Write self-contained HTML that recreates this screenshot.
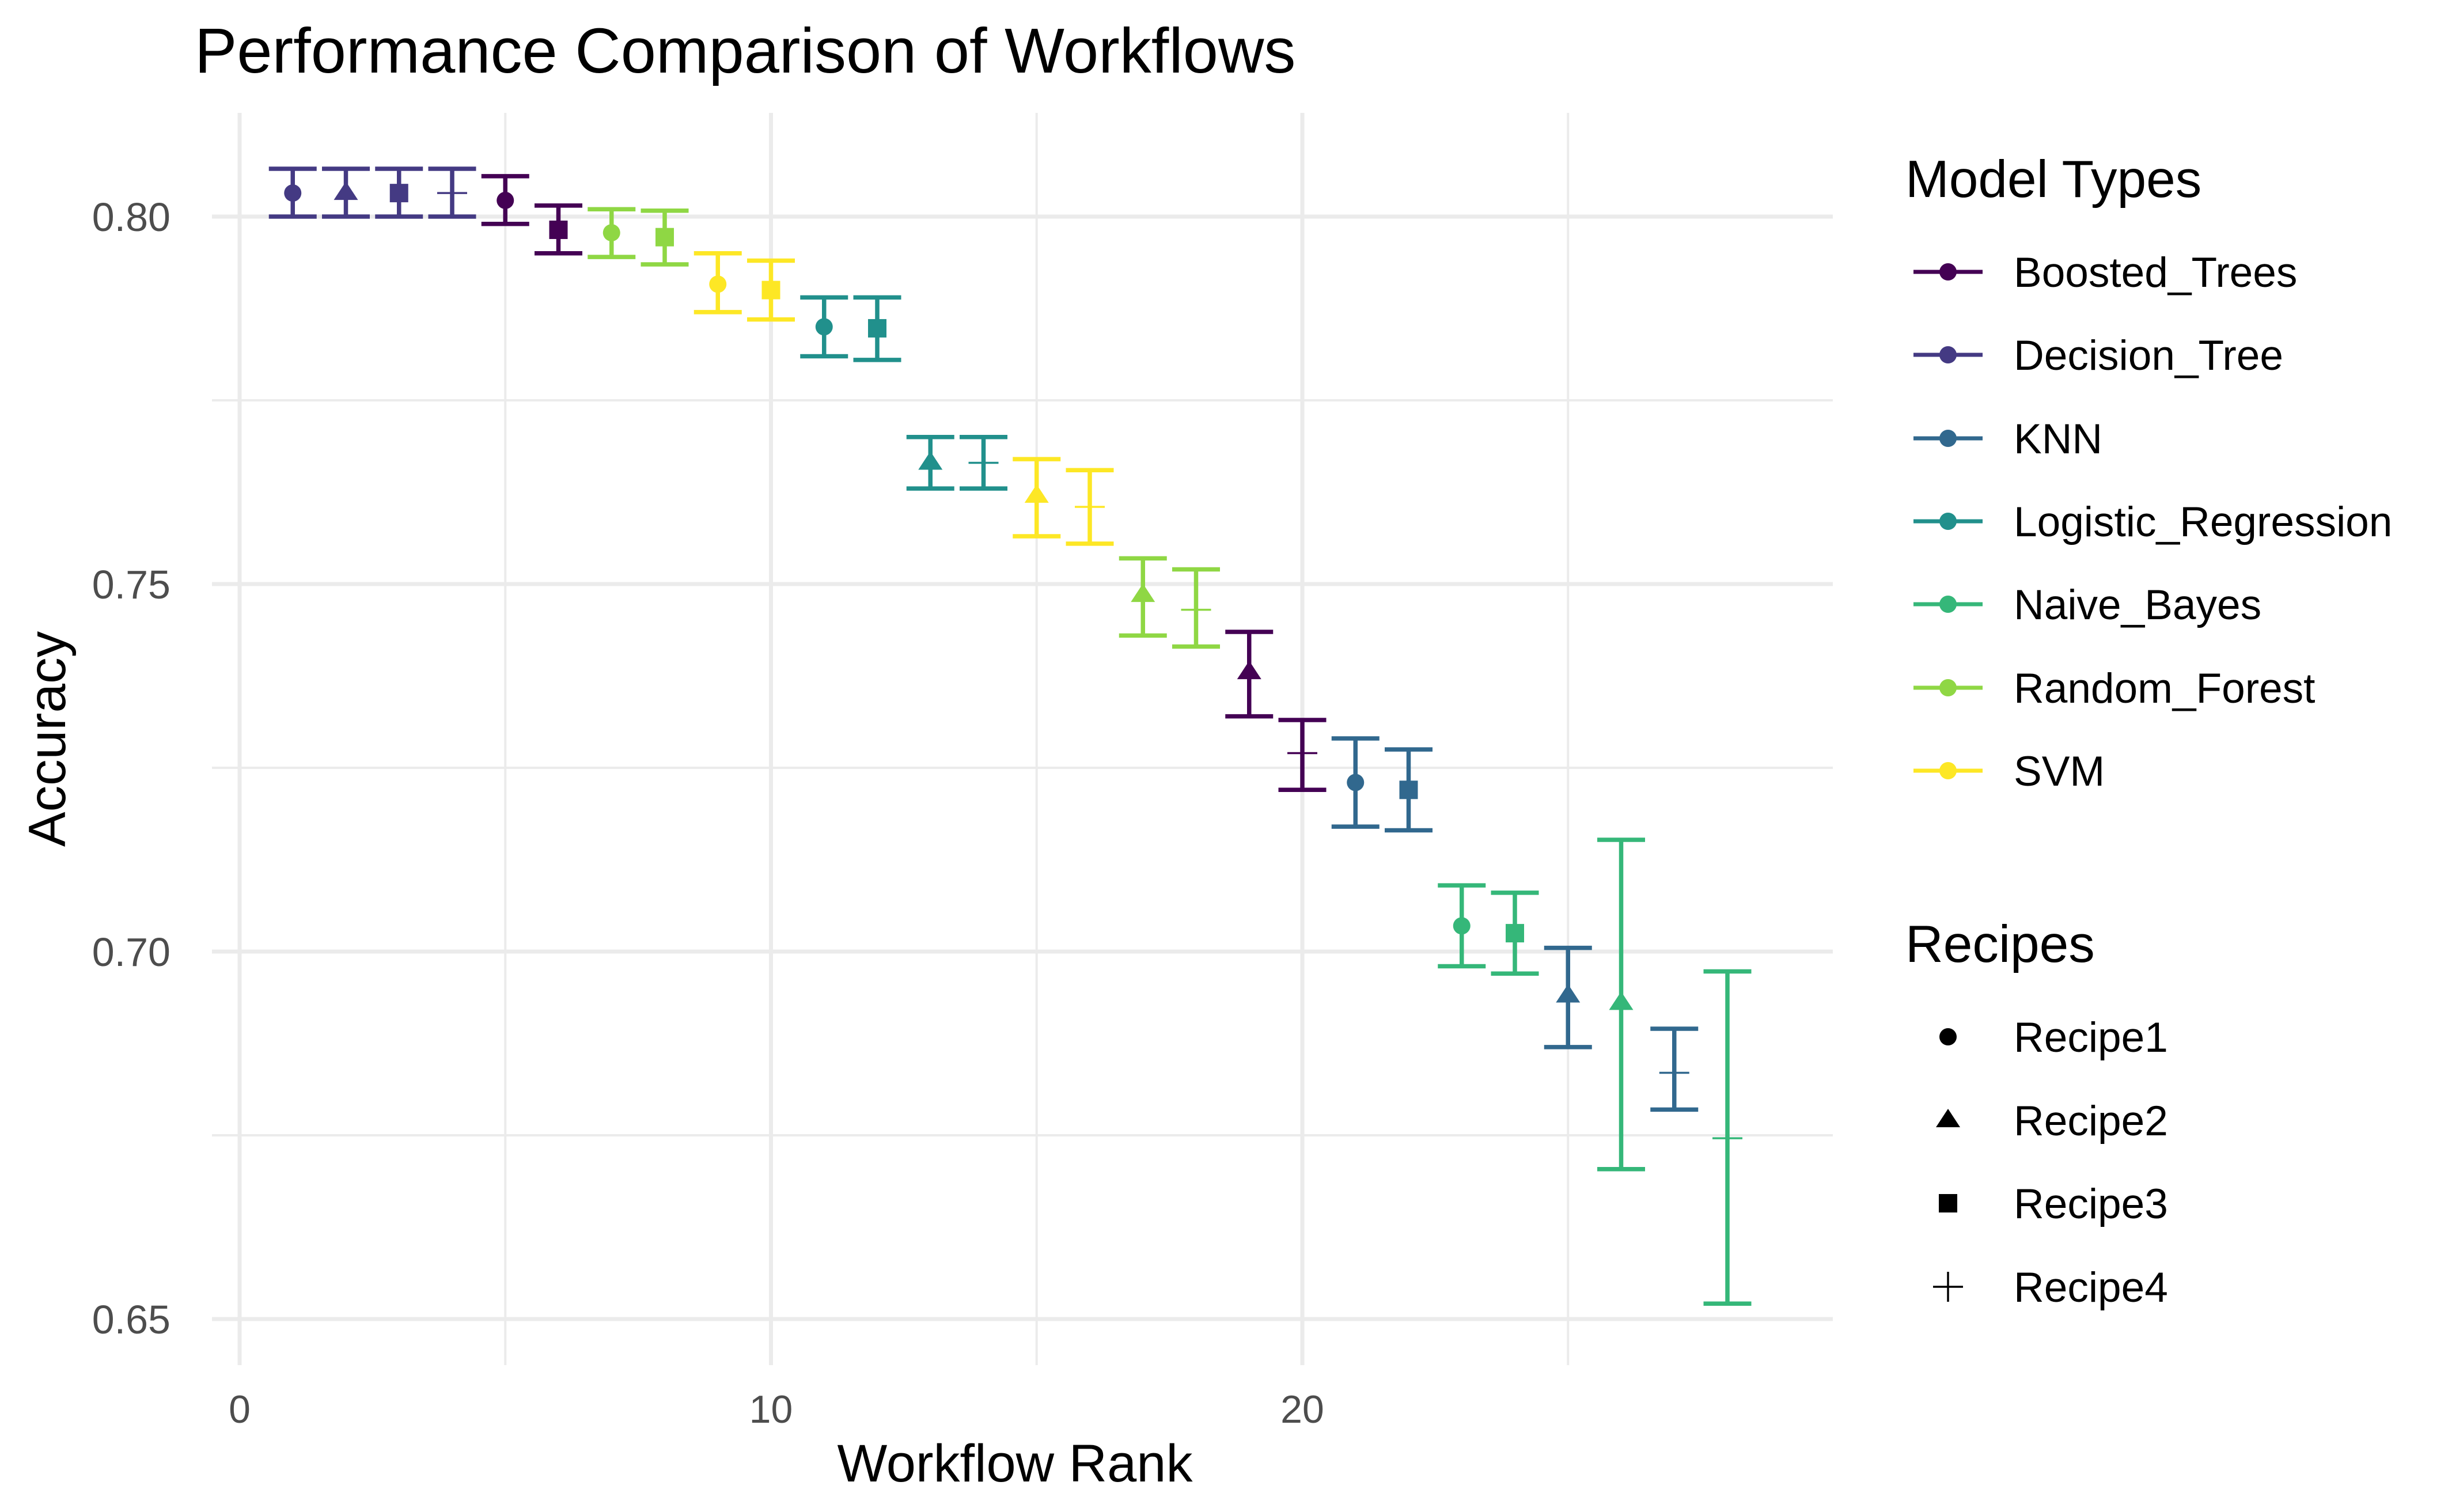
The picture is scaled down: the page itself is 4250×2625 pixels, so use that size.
<!DOCTYPE html>
<html><head><meta charset="utf-8"><style>
html,body{margin:0;padding:0;background:#fff;}
svg{display:block;font-family:"Liberation Sans",Arial,sans-serif;}
</style></head><body>
<svg id="chart" width="4250" height="2625" viewBox="0 0 4250 2625" xmlns="http://www.w3.org/2000/svg">
<rect width="4250" height="2625" fill="#fff"/>
<g id="grid"></g>
<g id="marks"></g>
<g id="axes"></g>
<text x="338" y="126" font-size="110" fill="#000">Performance Comparison of Workflows</text>
<text x="1762" y="2572" font-size="92" text-anchor="middle" fill="#000">Workflow Rank</text>
<text transform="translate(113,1283) rotate(-90)" font-size="91" text-anchor="middle" fill="#000">Accuracy</text>
<g id="legend"></g>
</svg>
<script>
const ranks=[1,2,3,4,5,6,7,8,9,10,11,12,13,14,15,16,17,18,19,20,21,22,23,24,25,26,27,28];
const models=["Decision_Tree","Decision_Tree","Decision_Tree","Decision_Tree","Boosted_Trees","Boosted_Trees","Random_Forest","Random_Forest","SVM","SVM","Logistic_Regression","Logistic_Regression","Logistic_Regression","Logistic_Regression","SVM","SVM","Random_Forest","Random_Forest","Boosted_Trees","Boosted_Trees","KNN","KNN","Naive_Bayes","Naive_Bayes","KNN","Naive_Bayes","KNN","Naive_Bayes"];
const recipes=["Recipe1","Recipe2","Recipe3","Recipe4","Recipe1","Recipe3","Recipe1","Recipe3","Recipe1","Recipe3","Recipe1","Recipe3","Recipe2","Recipe4","Recipe2","Recipe4","Recipe2","Recipe4","Recipe2","Recipe4","Recipe1","Recipe3","Recipe1","Recipe3","Recipe2","Recipe2","Recipe4","Recipe4"];
const means=[0.8032,0.8032,0.8032,0.8032,0.8022,0.7982,0.7978,0.7972,0.7908,0.7900,0.7850,0.7848,0.7665,0.7665,0.7620,0.7605,0.7485,0.7465,0.7380,0.7270,0.7230,0.7220,0.7035,0.7025,0.6940,0.6930,0.6835,0.6746];
const lowers=[0.8000,0.8000,0.8000,0.8000,0.7990,0.7950,0.7945,0.7935,0.7870,0.7860,0.7810,0.7805,0.7630,0.7630,0.7565,0.7555,0.7430,0.7415,0.7320,0.7220,0.7170,0.7165,0.6980,0.6970,0.6870,0.6704,0.6785,0.6521];
const uppers=[0.8065,0.8065,0.8065,0.8065,0.8055,0.8015,0.8010,0.8008,0.7950,0.7940,0.7890,0.7890,0.7700,0.7700,0.7670,0.7655,0.7535,0.7520,0.7435,0.7315,0.7290,0.7275,0.7090,0.7080,0.7005,0.7152,0.6895,0.6973];
const modelNames=["Boosted_Trees","Decision_Tree","KNN","Logistic_Regression","Naive_Bayes","Random_Forest","SVM"];
const modelColors=["#440154","#443A83","#31688E","#21908C","#35B779","#8FD744","#FDE725"];
const recipeNames=["Recipe1","Recipe2","Recipe3","Recipe4"];
const xTicks=[0,10,20];
const xMinor=[5,15,25];
const yTicks=[0.65,0.70,0.75,0.80];
const yMinor=[0.675,0.725,0.775];
const yTickLabels=["0.65","0.70","0.75","0.80"];

const NS="http://www.w3.org/2000/svg";
const X=v=>416+v*92.25;
const Y=v=>1652-(v-0.70)*12760;
const PL=368,PR=3182,PT=196,PB=2370;
const LX=3308;
function mk(tag,attrs,parent){const e=document.createElementNS(NS,tag);for(const k in attrs)e.setAttribute(k,attrs[k]);parent.appendChild(e);return e;}
const grid=document.getElementById('grid'),marks=document.getElementById('marks'),axes=document.getElementById('axes'),legend=document.getElementById('legend');

yMinor.forEach(v=>{const l=mk('line',{x1:PL,x2:PR,y1:Y(v),y2:Y(v),stroke:'#EBEBEB','stroke-width':4},grid);

});
xMinor.forEach(v=>{const l=mk('line',{x1:X(v),x2:X(v),y1:PT,y2:PB,stroke:'#EBEBEB','stroke-width':4},grid);

});
yTicks.forEach((v,i)=>{const l=mk('line',{x1:PL,x2:PR,y1:Y(v),y2:Y(v),stroke:'#EBEBEB','stroke-width':7},grid);


const t=mk('text',{x:296,y:Y(v)+25,'font-size':70,'text-anchor':'end',fill:'#4D4D4D'},axes);t.textContent=yTickLabels[i];

});
xTicks.forEach(v=>{const l=mk('line',{x1:X(v),x2:X(v),y1:PT,y2:PB,stroke:'#EBEBEB','stroke-width':7},grid);


const t=mk('text',{x:X(v),y:2470,'font-size':68,'text-anchor':'middle',fill:'#4D4D4D'},axes);t.textContent=String(v);

});

function shape(kind,cx,cy,col,parent){
  let e;
  if(kind==="Recipe1") e=mk('circle',{cx:cx,cy:cy,r:15,fill:col},parent);
  else if(kind==="Recipe2") e=mk('polygon',{points:`${cx},${cy-20} ${cx+21},${cy+12} ${cx-21},${cy+12}`,fill:col},parent);
  else if(kind==="Recipe3") e=mk('rect',{x:cx-16,y:cy-16,width:32,height:32,fill:col},parent);
  else e=mk('path',{d:`M${cx-26},${cy}H${cx+26}M${cx},${cy-26}V${cy+26}`,stroke:col,'stroke-width':3.5,fill:'none'},parent);
  return e;
}

ranks.forEach((r,i)=>{
  const col=modelColors[modelNames.indexOf(models[i])];
  const g=mk('g',{},marks);
  
  
  const x=X(r),yl=Y(lowers[i]),yu=Y(uppers[i]);
  const eb=mk('path',{d:`M${x-41.5},${yu}H${x+41.5}M${x},${yu}V${yl}M${x-41.5},${yl}H${x+41.5}`,stroke:col,'stroke-width':7.5,fill:'none'},g);
  
  
  const p=shape(recipes[i],x,Y(means[i]),col,g);
  
  
});

// legend
let t=mk('text',{x:LX,y:342,'font-size':91,fill:'#000'},legend);t.textContent='Model Types';


const mY=[472,616,761,905,1049,1194,1338];
modelNames.forEach((m,i)=>{
  const g=mk('g',{},legend);
  
  
  mk('line',{x1:LX+14,x2:LX+134,y1:mY[i],y2:mY[i],stroke:modelColors[i],'stroke-width':7},g);
  mk('circle',{cx:LX+74,cy:mY[i],r:15,fill:modelColors[i]},g);
  const tt=mk('text',{x:LX+188,y:mY[i]+26,'font-size':73,fill:'#000'},g);tt.textContent=m;
});
t=mk('text',{x:LX,y:1670,'font-size':91,fill:'#000'},legend);t.textContent='Recipes';


const rY=[1800,1945,2089,2234];
recipeNames.forEach((m,i)=>{
  const g=mk('g',{},legend);
  
  
  shape(m,LX+74,rY[i],'#000',g);
  const tt=mk('text',{x:LX+188,y:rY[i]+26,'font-size':73,fill:'#000'},g);tt.textContent=m;
});
</script>
</body></html>
